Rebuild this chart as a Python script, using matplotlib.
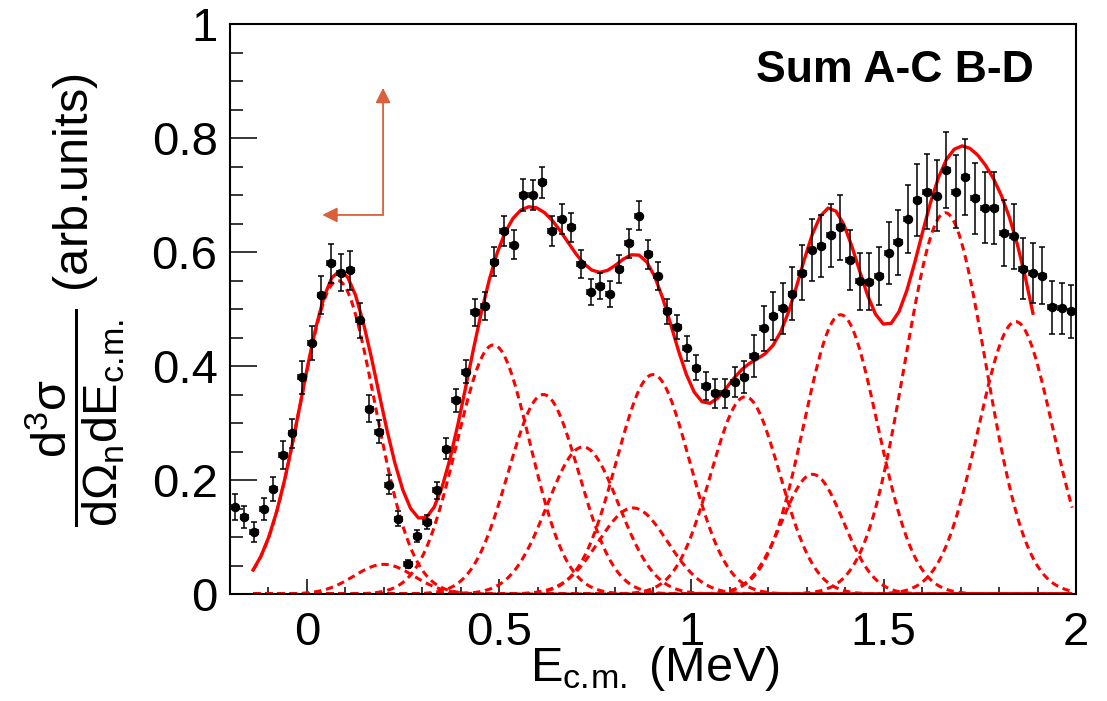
import matplotlib
matplotlib.use("Agg")
import matplotlib.pyplot as plt
import numpy as np
from matplotlib.ticker import FuncFormatter, MultipleLocator

plt.rcParams.update({
    "font.family": ["Liberation Sans", "DejaVu Sans"],
    "mathtext.fontset": "custom",
    "mathtext.rm": "Liberation Sans",
    "mathtext.it": "Liberation Sans",
    "mathtext.bf": "Liberation Sans:bold",
})

# measured spectrum: bin centres (MeV), yield and statistical error
e_cm = np.arange(88) * 0.025 - 0.1875
yield_ = [
    0.153, 0.135, 0.109, 0.149, 0.184, 0.244, 0.282, 0.380, 0.440, 0.525,
    0.580, 0.564, 0.568, 0.480, 0.325, 0.285, 0.192, 0.132, 0.053, 0.102,
    0.126, 0.182, 0.255,
    0.340, 0.390, 0.494, 0.505, 0.583, 0.637, 0.613, 0.700, 0.700, 0.722,
    0.637, 0.658, 0.643, 0.579, 0.530, 0.540, 0.526, 0.570, 0.615, 0.664,
    0.596, 0.558, 0.496, 0.468,
    0.431, 0.397, 0.365, 0.352, 0.352, 0.372, 0.381, 0.418, 0.466, 0.488,
    0.501, 0.527, 0.564, 0.604, 0.611, 0.629, 0.643, 0.586, 0.549, 0.548,
    0.558, 0.598, 0.617, 0.658, 0.691, 0.706, 0.699, 0.744, 0.706, 0.732,
    0.694, 0.678, 0.677, 0.633, 0.628, 0.571, 0.563, 0.558, 0.503, 0.501,
    0.496,
]
yield_err = [
    0.023, 0.020, 0.018, 0.019, 0.021, 0.024, 0.025, 0.029, 0.030, 0.033,
    0.034, 0.033, 0.034, 0.030, 0.024, 0.020, 0.017, 0.013, 0.007, 0.010,
    0.012, 0.015, 0.018,
    0.020, 0.020, 0.024, 0.024, 0.025, 0.027, 0.026, 0.028, 0.027, 0.028,
    0.026, 0.026, 0.026, 0.025, 0.023, 0.023, 0.023, 0.025, 0.025, 0.026,
    0.025, 0.024, 0.022, 0.021,
    0.022, 0.022, 0.025, 0.025, 0.025, 0.027, 0.028, 0.037, 0.040, 0.042,
    0.044, 0.047, 0.049, 0.054, 0.054, 0.056, 0.057, 0.053, 0.050, 0.050,
    0.051, 0.055, 0.057, 0.060, 0.063, 0.066, 0.063, 0.067, 0.064, 0.067,
    0.063, 0.063, 0.063, 0.058, 0.057, 0.054, 0.053, 0.050, 0.046, 0.045,
    0.046,
]

# gaussian components of the fit: centroid, height, width (MeV)
peak_mu = [0.080, 0.200, 0.485, 0.615, 0.718, 0.848, 0.900, 1.140, 1.315, 1.388, 1.660, 1.843]
peak_amp = [0.550, 0.052, 0.437, 0.350, 0.258, 0.151, 0.385, 0.346, 0.210, 0.490, 0.669, 0.478]
peak_sigma = [0.097, 0.078, 0.095, 0.092, 0.093, 0.090, 0.095, 0.090, 0.080, 0.096, 0.105, 0.097]

fit_lo, fit_hi = -0.14, 1.888
comp_lo, comp_hi = -0.14, 1.99


def gauss(x, mu, amp, sigma):
    return amp * np.exp(-0.5 * ((x - mu) / sigma) ** 2)


fig = plt.figure(figsize=(11.07, 7.01), dpi=100)
ax = fig.add_axes([230 / 1107, 1 - 594 / 701, 846 / 1107, 570 / 701])

# individual components, dashed
xc = np.linspace(comp_lo, comp_hi, 400)
for mu, amp, sig in zip(peak_mu, peak_amp, peak_sigma):
    ax.plot(xc, gauss(xc, mu, amp, sig), color="#ff0000", lw=2.2,
            dashes=(2.4, 1.6), zorder=2)

# total fit, sampled coarsely like a TF1
xf = np.linspace(fit_lo, fit_hi, 100)
total = sum(gauss(xf, mu, amp, sig) for mu, amp, sig in zip(peak_mu, peak_amp, peak_sigma))
ax.plot(xf, total, color="#ff0000", lw=2.4, zorder=3)

ax.errorbar(e_cm, yield_, yerr=yield_err, xerr=0.0095, fmt="o", color="black",
            ms=5.8, elinewidth=1.1, capsize=2.0, capthick=1.1, zorder=4)

# orange marker arrows
arrow_kw = dict(arrowstyle="-|>,head_length=0.9,head_width=0.45",
                color="#d9603b", lw=1.3, shrinkA=0, shrinkB=0)
ax.annotate("", xy=(0.198, 0.888), xytext=(0.198, 0.665), arrowprops=arrow_kw)
ax.annotate("", xy=(0.040, 0.665), xytext=(0.198, 0.665), arrowprops=arrow_kw)

ax.text(0.786, 0.898, "Sum A-C B-D", transform=ax.transAxes, ha="center",
        va="baseline", fontsize=32, fontweight="bold")

ax.set_xlim(-0.2, 2.0)
ax.set_ylim(0, 1.0)
ax.xaxis.set_major_locator(MultipleLocator(0.5))
ax.xaxis.set_minor_locator(MultipleLocator(0.1))
ax.yaxis.set_major_locator(MultipleLocator(0.2))
ax.yaxis.set_minor_locator(MultipleLocator(0.05))
fmt = FuncFormatter(lambda v, _: f"{v:g}")
ax.xaxis.set_major_formatter(fmt)
ax.yaxis.set_major_formatter(fmt)
ax.tick_params(axis="both", which="both", direction="in", width=1.1,
               top=False, right=False, labelsize=34)
ax.tick_params(axis="x", which="major", length=10.8, pad=12)
ax.tick_params(axis="x", which="minor", length=5.4)
ax.tick_params(axis="y", which="major", length=19.4, pad=9)
ax.tick_params(axis="y", which="minor", length=9.7)
for sp in ax.spines.values():
    sp.set_linewidth(1.5)

ax.set_xlabel(r"E$_{\mathrm{c.\!m.}}$ (MeV)", fontsize=35, va="baseline")
ax.xaxis.set_label_coords(0.502, -0.153)
ax.set_ylabel(r"$\dfrac{\mathrm{d^{3}\sigma}}{\mathrm{d\Omega_{n}dE_{c.\!m.}}}$ (arb.units)",
              fontsize=35, va="center", ha="center")
ax.yaxis.set_label_coords(-0.183, 0.515)

fig.savefig("out.png", dpi=100)
